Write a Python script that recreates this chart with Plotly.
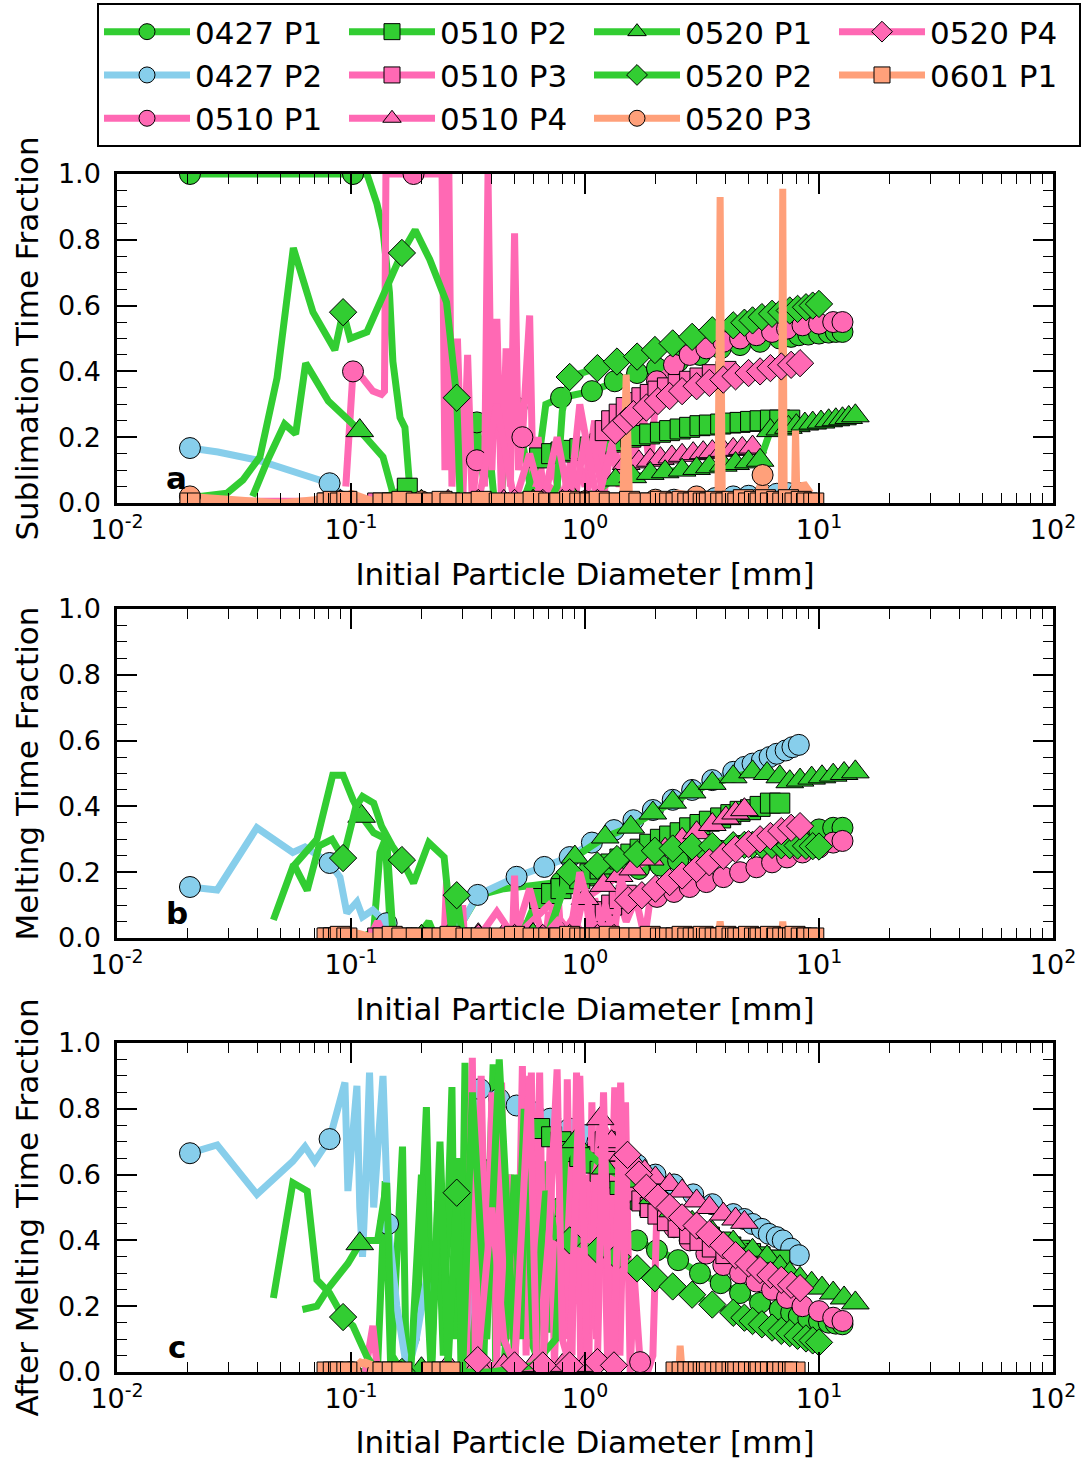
import plotly.graph_objects as go

# ------------------------------------------------------------------
# Labels
# ------------------------------------------------------------------
SERIES = ["0427 P1", "0427 P2", "0510 P1", "0510 P2", "0510 P3", "0510 P4",
          "0520 P1", "0520 P2", "0520 P3", "0520 P4", "0601 P1"]
LEGEND_ORDER = ["0427 P1", "0510 P2", "0520 P1", "0520 P4",
                "0427 P2", "0510 P3", "0520 P2", "0601 P1",
                "0510 P1", "0510 P4", "0520 P3"]
X_TICKS = [0.01, 0.1, 1, 10, 100]
X_TICK_TEXT = ["10<sup>-2</sup>", "10<sup>-1</sup>", "10<sup>0</sup>", "10<sup>1</sup>", "10<sup>2</sup>"]
Y_TICKS = [0.0, 0.2, 0.4, 0.6, 0.8, 1.0]
Y_TICK_TEXT = ["0.0", "0.2", "0.4", "0.6", "0.8", "1.0"]
PANEL_TITLES = ["Sublimation Time Fraction", "Melting Time Fraction", "After Melting Time Fraction"]
PANEL_LETTERS = ["a", "b", "c"]
X_TITLE = "Initial Particle Diameter [mm]"

# ------------------------------------------------------------------
# Data (diameter in mm, time fraction). *_mx/*_my = points carrying markers,
# *_lx/*_ly = additional line vertices (same series, no marker drawn)
# ------------------------------------------------------------------
d_0520P2 = [0.0925, 0.165, 0.283, 0.86, 1.13, 1.37, 1.67, 1.99, 2.37, 2.87, 3.5, 4.3, 4.8, 5.2,
            5.7, 6.3, 6.9, 7.5, 8.1, 8.8, 9.4, 10.0]
d_0601P1 = [0.0205, 0.079, 0.084, 0.09, 0.096, 0.137, 0.15, 0.165, 0.19, 0.223, 0.245, 0.265, 0.31,
            0.36, 0.43, 0.5, 0.6, 0.7, 0.78, 0.86, 0.95, 1.05, 1.15, 1.27, 1.4, 1.55, 1.7, 1.9, 2.1,
            2.3, 2.45, 2.6, 2.75, 2.9, 3.05, 3.2, 3.4, 3.6, 3.8, 4.0, 4.25, 4.5, 4.75, 5.0, 5.3, 5.6,
            5.9, 6.2, 6.6, 7.0, 7.4, 7.9, 8.4, 8.9, 9.5]

# ---------------- panel a : sublimation ----------------
a_0427P1_mx = [0.0205, 0.102, 0.345, 0.51, 0.79, 1.07, 1.34, 1.67, 2.03, 2.5, 3.1, 3.8, 4.6, 5.6, 6.8,
               7.6, 8.2, 9.0, 10.0, 11.0, 11.8, 12.6]
a_0427P1_my = [1.0, 1.0, 0.245, 0.29, 0.32, 0.34, 0.37, 0.395, 0.41, 0.43, 0.45, 0.47, 0.48, 0.49, 0.50,
               0.505, 0.51, 0.512, 0.515, 0.518, 0.52, 0.52]
a_0427P1_lx = [0.117, 0.129, 0.137, 0.146, 0.151, 0.162, 0.17, 0.179, 0.21, 0.24, 0.27, 0.30, 0.33,
               0.37, 0.39, 0.41, 0.44, 0.47, 0.60, 0.68]
a_0427P1_ly = [1.0, 0.91, 0.83, 0.64, 0.43, 0.26, 0.23, 0.03, 0.01, 0.0, 0.02, 0.0, 0.0, 0.06, 0.17,
               0.0, 0.03, 0.27, 0.0, 0.3]

a_0427P2_mx = [0.0205, 0.081, 2.4, 3.0, 3.6, 4.3, 5.0, 5.8, 6.6, 7.4, 8.2]
a_0427P2_my = [0.167, 0.06, 0.01, 0.012, 0.015, 0.02, 0.022, 0.025, 0.028, 0.03, 0.03]
a_0427P2_lx = [0.027, 0.04, 0.055, 0.07, 0.09, 0.1, 0.13, 0.2, 0.3, 0.5, 0.8, 1.2, 1.8]
a_0427P2_ly = [0.155, 0.13, 0.1, 0.075, 0.03, 0.0, 0.01, 0.0, 0.005, 0.0, 0.005, 0.0, 0.01]

a_0510P1_mx = [0.102, 0.185, 0.345, 0.54, 2.03, 2.4, 2.8, 3.3, 3.9, 4.6, 5.4, 6.3, 7.3, 8.5, 10.0,
               11.5, 12.6]
a_0510P1_my = [0.40, 1.0, 0.13, 0.2, 0.37, 0.42, 0.45, 0.47, 0.49, 0.50, 0.51, 0.52, 0.53, 0.54,
               0.545, 0.55, 0.55]
a_0510P1_lx = [0.095, 0.112, 0.124, 0.135, 0.139, 0.141, 0.245, 0.252, 0.262, 0.27, 0.285, 0.30, 0.315,
               0.33, 0.36, 0.372, 0.385, 0.40, 0.42, 0.44, 0.46, 0.48, 0.50, 0.52, 0.58, 0.60, 0.63,
               0.67, 0.72, 0.8, 0.9, 1.0, 1.1, 1.2, 1.3, 1.4, 1.5, 1.6, 1.75, 1.9]
a_0510P1_ly = [0.05, 0.38, 0.34, 0.33, 0.34, 1.0, 1.0, 0.1, 1.0, 0.05, 0.5, 0.0, 0.45, 0.0, 0.15,
               0.05, 1.0, 0.1, 0.56, 0.0, 0.47, 0.05, 0.82, 0.1, 0.57, 0.05, 0.2, 0.0, 0.12, 0.0,
               0.18, 0.05, 0.25, 0.05, 0.28, 0.05, 0.22, 0.1, 0.3, 0.1]

a_0510P2_mx = [0.085, 0.174, 0.64, 0.72, 0.79, 0.86, 0.95, 1.05, 1.16, 1.29, 1.41, 1.57, 1.72, 1.89,
               2.1, 2.3, 2.55, 2.8, 3.1, 3.4, 3.8, 4.2, 4.6, 5.1, 5.6, 6.2, 6.8, 7.5]
a_0510P2_my = [0.0, 0.045, 0.137, 0.15, 0.155, 0.16, 0.165, 0.17, 0.18, 0.185, 0.19, 0.2, 0.205, 0.21,
               0.215, 0.22, 0.225, 0.23, 0.235, 0.237, 0.24, 0.243, 0.245, 0.248, 0.25, 0.252, 0.252,
               0.252]
a_0510P2_lx = [0.12, 0.2, 0.3, 0.4, 0.5, 0.56, 0.6]
a_0510P2_ly = [0.0, 0.0, 0.01, 0.0, 0.0, 0.03, 0.09]

a_0510P3_mx = [0.08, 0.13, 0.2, 0.3, 1.22, 1.3, 1.4, 1.5, 1.62, 1.75, 1.9, 2.05, 2.25, 2.5, 2.8, 3.1,
               3.5, 4.0]
a_0510P3_my = [0.0, 0.0, 0.0, 0.0, 0.22, 0.25, 0.27, 0.29, 0.305, 0.32, 0.33, 0.34, 0.35, 0.36, 0.37,
               0.38, 0.39, 0.40]
a_0510P3_lx = [0.5, 0.7, 0.9, 1.0, 1.05, 1.1, 1.15]
a_0510P3_ly = [0.0, 0.05, 0.0, 0.2, 0.05, 0.25, 0.1]

a_0510P4_mx = [0.0205, 0.09, 0.15, 0.2, 0.26, 0.35, 0.45, 0.6, 0.8, 1.0, 1.5, 1.7, 1.9, 2.1, 2.35,
               2.6, 2.9, 3.2, 3.5, 3.9, 4.3, 4.7, 5.2]
a_0510P4_my = [0.005, 0.005, 0.005, 0.005, 0.005, 0.005, 0.005, 0.005, 0.005, 0.005, 0.12, 0.125,
               0.13, 0.135, 0.14, 0.145, 0.15, 0.153, 0.156, 0.16, 0.163, 0.166, 0.17]
a_0510P4_lx = [1.1, 1.2, 1.3, 1.4]
a_0510P4_ly = [0.15, 0.02, 0.18, 0.05]

a_0520P1_mx = [0.109, 0.2, 0.35, 0.6, 0.9, 1.35, 1.6, 1.9, 2.2, 2.6, 3.0, 3.4, 3.9, 4.4, 5.0, 5.6,
               6.2, 6.8, 7.4, 8.0, 8.7, 9.4, 10.2, 11.0, 11.8, 12.6, 13.4, 14.3]
a_0520P1_my = [0.22, 0.005, 0.005, 0.005, 0.01, 0.07, 0.08, 0.09, 0.095, 0.10, 0.105, 0.11, 0.115,
               0.12, 0.125, 0.13, 0.22, 0.225, 0.23, 0.235, 0.24, 0.243, 0.246, 0.25, 0.253, 0.256,
               0.26, 0.265]
a_0520P1_lx = [0.038, 0.044, 0.052, 0.058, 0.064, 0.08, 0.137, 0.151, 0.16, 0.25, 0.3, 0.45, 0.75,
               1.1, 1.25]
a_0520P1_ly = [0.02, 0.13, 0.24, 0.21, 0.425, 0.31, 0.14, 0.03, 0.0, 0.0, 0.02, 0.0, 0.0, 0.03, 0.06]

a_0520P2_my = [0.58, 0.76, 0.32, 0.383, 0.41, 0.43, 0.445, 0.465, 0.485, 0.505, 0.525, 0.54, 0.548,
               0.555, 0.565, 0.575, 0.58, 0.585, 0.59, 0.595, 0.60, 0.605]
a_0520P2_lx = [0.0226, 0.0295, 0.0345, 0.0408, 0.0483, 0.0567, 0.0688, 0.0853, 0.0991, 0.117, 0.137,
               0.188, 0.217, 0.256, 0.292, 0.31, 0.4, 0.55, 0.7, 0.76, 0.8]
a_0520P2_ly = [0.02, 0.03, 0.07, 0.14, 0.38, 0.775, 0.58, 0.465, 0.50, 0.52, 0.63, 0.83, 0.74, 0.61,
               0.03, 0.0, 0.0, 0.0, 0.0, 0.05, 0.28]

a_0520P3_mx = [0.0205, 0.09, 0.2, 0.5, 1.0, 2.0, 3.0, 5.74]
a_0520P3_my = [0.02, 0.005, 0.005, 0.005, 0.005, 0.01, 0.02, 0.085]
a_0520P3_lx = [0.03, 0.05, 0.07, 0.08, 0.1, 0.12, 0.15, 0.3, 0.7, 1.45, 1.5, 1.55, 2.5, 3.7, 3.78,
               3.86, 4.5, 5.5, 5.95, 6.9, 7.0, 7.1, 7.85, 7.94, 8.05, 8.6, 9.2]
a_0520P3_ly = [0.01, 0.0, 0.01, 0.02, 0.03, 0.01, 0.0, 0.01, 0.01, 0.0, 0.39, 0.0, 0.03, 0.0, 0.93,
               0.0, 0.02, 0.03, 0.02, 0.0, 0.955, 0.0, 0.0, 0.22, 0.0, 0.06, 0.03]

a_0520P4_mx = [0.35, 0.5, 0.66, 0.86, 1.13, 1.35, 1.5, 1.61, 1.83, 2.05, 2.3, 2.6, 3.0, 3.4, 3.9,
               4.4, 5.0, 5.6, 6.2, 6.9, 7.6, 8.3]
a_0520P4_my = [0.0, 0.0, 0.0, 0.0, 0.0, 0.22, 0.25, 0.27, 0.29, 0.31, 0.325, 0.34, 0.355, 0.365,
               0.375, 0.385, 0.395, 0.40, 0.41, 0.415, 0.42, 0.425]
a_0520P4_lx = [0.42, 0.58, 0.76, 0.95, 1.22]
a_0520P4_ly = [0.3, 0.15, 0.2, 0.3, 0.1]

a_0601P1_my = [0.0, 0.0, 0.005, 0.0, 0.005, 0.0, 0.0, 0.005, 0.0, 0.0,
               0.005, 0.0, 0.0, 0.005, 0.0, 0.0, 0.005, 0.0, 0.0, 0.005,
               0.0, 0.0, 0.005, 0.0, 0.0, 0.005, 0.0, 0.0, 0.005, 0.0,
               0.0, 0.005, 0.0, 0.0, 0.005, 0.0, 0.0, 0.005, 0.0, 0.0,
               0.005, 0.0, 0.01, 0.0, 0.005, 0.0, 0.01, 0.0, 0.005, 0.0,
               0.01, 0.0, 0.005, 0.0, 0.0]
a_0601P1_lx = []
a_0601P1_ly = []

# ---------------- panel b : melting ----------------
b_0427P1_mx = [0.79, 1.07, 1.37, 1.7, 2.1, 2.5, 3.1, 3.8, 4.6, 5.6, 6.8, 8.2, 10.0, 11.5, 12.6]
b_0427P1_my = [0.17, 0.19, 0.20, 0.21, 0.22, 0.235, 0.25, 0.265, 0.28, 0.295, 0.31, 0.32, 0.33,
               0.335, 0.335]
b_0427P1_lx = [0.11, 0.125, 0.133, 0.14, 0.148, 0.2, 0.215, 0.23, 0.25, 0.3, 0.35, 0.45, 0.6]
b_0427P1_ly = [0.0, 0.02, 0.26, 0.30, 0.0, 0.02, 0.05, 0.0, 0.0, 0.05, 0.13, 0.15, 0.16]

b_0427P2_mx = [0.0205, 0.081, 0.142, 0.348, 0.51, 0.67, 0.86, 1.07, 1.33, 1.61, 1.95, 2.37, 2.87,
               3.5, 4.3, 4.8, 5.2, 5.7, 6.15, 6.6, 7.2, 7.7, 8.2]
b_0427P2_my = [0.155, 0.228, 0.045, 0.131, 0.186, 0.216, 0.246, 0.29, 0.328, 0.358, 0.389, 0.42,
               0.45, 0.48, 0.505, 0.52, 0.53, 0.54, 0.55, 0.56, 0.57, 0.58, 0.587]
b_0427P2_lx = [0.0268, 0.0396, 0.0564, 0.0636, 0.0897, 0.096, 0.106, 0.112, 0.124, 0.16, 0.2, 0.25, 0.3]
b_0427P2_ly = [0.146, 0.335, 0.26, 0.277, 0.185, 0.076, 0.11, 0.064, 0.085, 0.01, 0.0, 0.02, 0.05]

b_0510P1_mx = [2.03, 2.4, 2.8, 3.3, 3.9, 4.6, 5.4, 6.3, 7.3, 8.5, 10.0, 11.5, 12.6]
b_0510P1_my = [0.125, 0.14, 0.155, 0.17, 0.185, 0.20, 0.215, 0.23, 0.245, 0.26, 0.275, 0.29, 0.295]
b_0510P1_lx = [0.12, 0.13, 0.14, 0.25, 0.256, 0.262, 0.295, 0.3, 0.305, 0.4, 0.45, 0.49, 0.5, 0.51,
               0.55, 0.6, 0.68, 0.7, 0.72, 0.74, 0.76, 0.79, 0.82, 0.9, 1.0, 1.1, 1.2, 1.35, 1.5,
               1.65, 1.8, 1.9]
b_0510P1_ly = [0.0, 0.05, 0.0, 0.0, 0.17, 0.0, 0.0, 0.1, 0.0, 0.02, 0.0, 0.0, 0.19, 0.0, 0.05, 0.0,
               0.0, 0.08, 0.0, 0.0, 0.17, 0.0, 0.02, 0.05, 0.0, 0.1, 0.0, 0.15, 0.05, 0.12, 0.0, 0.12]

b_0510P2_mx = [0.085, 0.174, 0.64, 0.72, 0.79, 0.86, 0.95, 1.05, 1.16, 1.29, 1.41, 1.57, 1.72, 1.89,
               2.1, 2.3, 2.55, 2.8, 3.1, 3.4, 3.8, 4.2, 4.6, 5.1, 5.6, 6.2, 6.8]
b_0510P2_my = [0.0, 0.0, 0.12, 0.135, 0.15, 0.165, 0.18, 0.195, 0.21, 0.225, 0.24, 0.255, 0.27,
               0.285, 0.30, 0.31, 0.32, 0.335, 0.345, 0.355, 0.365, 0.375, 0.385, 0.39, 0.40, 0.41,
               0.41]
b_0510P2_lx = [0.12, 0.3, 0.5, 0.56, 0.6]
b_0510P2_ly = [0.0, 0.0, 0.0, 0.04, 0.09]

b_0510P3_mx = [0.08, 0.13, 0.2, 0.3, 1.22, 1.3, 1.4, 1.5]
b_0510P3_my = [0.0, 0.0, 0.0, 0.0, 0.08, 0.1, 0.12, 0.13]
b_0510P3_lx = [0.5, 0.7, 0.9, 1.0, 1.05, 1.1, 1.15]
b_0510P3_ly = [0.0, 0.1, 0.0, 0.15, 0.02, 0.12, 0.05]

b_0510P4_mx = [0.26, 0.35, 0.45, 0.6, 0.8, 1.0, 1.2, 1.4, 1.6, 1.9, 2.2, 2.6, 3.0, 3.5, 4.0, 4.4, 4.8]
b_0510P4_my = [0.005, 0.01, 0.01, 0.01, 0.01, 0.12, 0.16, 0.19, 0.21, 0.24, 0.27, 0.30, 0.32, 0.345,
               0.365, 0.38, 0.39]
b_0510P4_lx = []
b_0510P4_ly = []

b_0520P1_mx = [0.111, 0.2, 0.35, 0.6, 0.905, 1.22, 1.57, 1.95, 2.37, 2.87, 3.5, 4.3, 5.2, 6.0, 6.8,
               7.5, 8.3, 9.3, 10.3, 11.5, 12.8, 14.3]
b_0520P1_my = [0.37, 0.005, 0.005, 0.01, 0.246, 0.307, 0.337, 0.38, 0.413, 0.444, 0.47, 0.49, 0.505,
               0.50, 0.49, 0.475, 0.48, 0.486, 0.49, 0.495, 0.50, 0.505]
b_0520P1_lx = [0.0466, 0.0564, 0.0715, 0.0835, 0.0925, 0.102, 0.125, 0.142, 0.151, 0.3, 0.45, 0.7, 0.8]
b_0520P1_ly = [0.055, 0.216, 0.30, 0.495, 0.495, 0.42, 0.32, 0.30, 0.015, 0.0, 0.02, 0.0, 0.15]

b_0520P2_my = [0.243, 0.237, 0.13, 0.20, 0.22, 0.24, 0.255, 0.265, 0.272, 0.278, 0.28, 0.282, 0.283,
               0.283, 0.283, 0.283, 0.282, 0.282, 0.281, 0.28, 0.279, 0.278]
b_0520P2_lx = [0.0564, 0.065, 0.073, 0.083, 0.097, 0.105, 0.112, 0.125, 0.135, 0.15, 0.185, 0.215,
               0.25, 0.27, 0.3, 0.5, 0.7, 0.78]
b_0520P2_ly = [0.23, 0.145, 0.28, 0.30, 0.30, 0.40, 0.43, 0.41, 0.34, 0.28, 0.167, 0.29, 0.246, 0.01,
               0.0, 0.0, 0.02, 0.12]

b_0520P3_mx = [0.5, 2.0, 5.74]
b_0520P3_my = [0.0, 0.0, 0.0]
b_0520P3_lx = [0.08, 0.1, 0.12, 3.7, 3.78, 3.86, 6.9, 7.0, 7.1]
b_0520P3_ly = [0.01, 0.02, 0.005, 0.0, 0.05, 0.0, 0.0, 0.05, 0.0]

b_0520P4_mx = [0.35, 0.5, 0.66, 0.86, 1.13, 1.33, 1.53, 1.75, 2.0, 2.3, 2.6, 3.0, 3.4, 3.9, 4.4, 5.0,
               5.6, 6.2, 6.9, 7.6, 8.3]
b_0520P4_my = [0.0, 0.0, 0.0, 0.0, 0.0, 0.0, 0.115, 0.13, 0.15, 0.17, 0.19, 0.21, 0.23, 0.25, 0.27,
               0.285, 0.30, 0.31, 0.325, 0.335, 0.34]
b_0520P4_lx = [0.42, 0.58, 0.76, 0.95, 1.22, 1.42]
b_0520P4_ly = [0.08, 0.15, 0.05, 0.2, 0.1, 0.18]

b_0601P1_my = [None, 0.0, 0.0, 0.005, 0.0, 0.0, 0.005, 0.0, 0.0, 0.0,
               0.0, 0.005, 0.0, 0.0, 0.0, 0.005, 0.0, 0.0, 0.0, 0.005,
               0.0, 0.0, 0.0, 0.005, 0.0, 0.0, 0.0, 0.005, 0.0, 0.0,
               0.0, 0.005, 0.0, 0.0, 0.0, 0.005, 0.0, 0.0, 0.0, 0.005,
               0.0, 0.0, 0.0, 0.005, 0.0, 0.0, 0.0, 0.005, 0.0, 0.0,
               0.0, 0.005, 0.0, 0.0, 0.0]
b_0601P1_lx = []
b_0601P1_ly = []

# ---------------- panel c : after melting ----------------
c_0427P1_mx = [0.356, 0.51, 0.79, 1.07, 1.34, 1.67, 2.03, 2.5, 3.1, 3.8, 4.6, 5.6, 6.8, 7.6, 8.2, 9.0,
               10.0, 11.0, 11.8, 12.6]
c_0427P1_my = [0.62, 0.56, 0.50, 0.47, 0.43, 0.40, 0.37, 0.34, 0.30, 0.27, 0.24, 0.21, 0.19, 0.18,
               0.17, 0.162, 0.155, 0.15, 0.147, 0.145]
c_0427P1_lx = [0.11, 0.13, 0.14, 0.148, 0.157, 0.166, 0.172, 0.19, 0.21, 0.222, 0.235, 0.248, 0.27,
               0.278, 0.285, 0.295, 0.307, 0.32, 0.335, 0.37, 0.39, 0.405, 0.415, 0.43, 0.45, 0.47,
               0.49, 0.53, 0.57, 0.62, 0.66, 0.7, 0.74]
c_0427P1_ly = [0.0, 0.02, 0.58, 0.0, 0.35, 0.685, 0.02, 0.1, 0.805, 0.03, 0.52, 0.05, 0.866, 0.1,
               0.65, 0.02, 0.94, 0.05, 0.6, 0.05, 0.5, 0.935, 0.02, 0.3, 0.08, 0.6, 0.1, 0.6, 0.12,
               0.05, 0.64, 0.12, 0.45]

c_0427P2_mx = [0.0205, 0.081, 0.144, 0.356, 0.43, 0.51, 0.6, 0.71, 0.86, 1.0, 1.13, 1.37, 1.67, 2.0,
               2.4, 2.9, 3.5, 4.3, 4.8, 5.2, 5.7, 6.1, 6.6, 7.0, 7.6, 8.2]
c_0427P2_my = [0.665, 0.708, 0.45, 0.86, 0.83, 0.81, 0.79, 0.77, 0.74, 0.72, 0.70, 0.66, 0.63, 0.60,
               0.57, 0.54, 0.51, 0.48, 0.465, 0.45, 0.435, 0.42, 0.41, 0.40, 0.375, 0.355]
c_0427P2_lx = [0.0268, 0.0396, 0.0564, 0.0636, 0.07, 0.0942, 0.097, 0.106, 0.109, 0.112, 0.116, 0.12,
               0.125, 0.137, 0.157, 0.174, 0.19, 0.21, 0.223, 0.26, 0.3, 0.33]
c_0427P2_ly = [0.69, 0.54, 0.64, 0.685, 0.64, 0.88, 0.55, 0.87, 0.5, 0.35, 0.6, 0.91, 0.50, 0.90, 0.2,
               0.0, 0.1, 0.28, 0.0, 0.02, 0.0, 0.3]

c_0510P1_mx = [1.72, 2.03, 2.4, 2.8, 3.3, 3.9, 4.6, 5.4, 6.3, 7.3, 8.5, 10.0, 11.5, 12.6]
c_0510P1_my = [0.03, 0.5, 0.44, 0.40, 0.36, 0.325, 0.30, 0.275, 0.25, 0.225, 0.20, 0.185, 0.165, 0.155]
c_0510P1_lx = [0.115, 0.124, 0.13, 0.31, 0.33, 0.34, 0.36, 0.38, 0.40, 0.42, 0.44, 0.46, 0.48, 0.50,
               0.52, 0.54, 0.56, 0.59, 0.61, 0.64, 0.67, 0.71, 0.74, 0.78, 0.82, 0.84, 0.88, 0.92,
               0.96, 1.0, 1.04, 1.07, 1.12, 1.18, 1.25, 1.34, 1.41, 1.49, 1.56, 1.62, 1.85, 1.95]
c_0510P1_ly = [0.0, 0.14, 0.0, 0.0, 0.955, 0.05, 0.9, 0.1, 0.85, 0.02, 0.88, 0.1, 0.6, 0.0, 0.3, 0.93,
               0.05, 0.91, 0.1, 0.91, 0.05, 0.7, 0.02, 0.5, 0.1, 0.89, 0.05, 0.91, 0.0, 0.6, 0.05,
               0.82, 0.1, 0.79, 0.02, 0.865, 0.05, 0.82, 0.0, 0.3, 0.0, 0.05]

c_0510P2_mx = [0.64, 0.72, 0.79, 0.86, 0.95, 1.05, 1.16, 1.29, 1.41, 1.57, 1.72, 1.89, 2.1, 2.3, 2.55,
               2.8, 3.1, 3.4, 3.8, 4.2, 4.6, 5.1, 5.6, 6.2, 6.8]
c_0510P2_my = [0.74, 0.715, 0.70, 0.67, 0.655, 0.635, 0.61, 0.59, 0.57, 0.545, 0.525, 0.505, 0.485,
               0.47, 0.455, 0.435, 0.42, 0.41, 0.395, 0.38, 0.37, 0.36, 0.35, 0.34, 0.34]
c_0510P2_lx = [0.45, 0.5, 0.53, 0.56, 0.6]
c_0510P2_ly = [0.0, 0.6, 0.1, 0.75, 0.72]

c_0510P3_mx = [1.22, 1.3, 1.4, 1.5, 1.62, 1.75, 1.9, 2.05, 2.25, 2.5, 2.8, 3.1, 3.5, 4.0]
c_0510P3_my = [0.70, 0.64, 0.61, 0.58, 0.55, 0.52, 0.50, 0.48, 0.46, 0.44, 0.42, 0.40, 0.38, 0.36]
c_0510P3_lx = [1.0, 1.1]
c_0510P3_ly = [0.1, 0.6]

c_0510P4_mx = [0.26, 0.35, 0.45, 0.6, 0.8, 1.0, 1.16, 1.3, 1.45, 1.6, 1.8, 2.0, 2.3, 2.6, 3.0, 3.4,
               3.9, 4.4, 4.8]
c_0510P4_my = [0.02, 0.02, 0.02, 0.02, 0.02, 0.02, 0.77, 0.70, 0.66, 0.64, 0.61, 0.59, 0.57, 0.55,
               0.52, 0.50, 0.48, 0.465, 0.455]
c_0510P4_lx = []
c_0510P4_ly = []

c_0520P1_mx = [0.109, 0.2, 0.905, 1.22, 1.57, 1.95, 2.37, 2.87, 3.5, 4.3, 5.2, 6.0, 6.8, 7.5, 8.3,
               9.3, 10.3, 11.5, 12.8, 14.3]
c_0520P1_my = [0.39, 0.01, 0.70, 0.62, 0.58, 0.53, 0.49, 0.455, 0.425, 0.395, 0.37, 0.35, 0.32, 0.30,
               0.285, 0.27, 0.255, 0.24, 0.225, 0.21]
c_0520P1_lx = [0.062, 0.0715, 0.081, 0.097, 0.117, 0.13, 0.142, 0.15, 0.165, 0.18, 0.25, 0.4, 0.6,
               0.75, 0.82]
c_0520P1_ly = [0.19, 0.2, 0.26, 0.33, 0.40, 0.40, 0.575, 0.05, 0.0, 0.01, 0.0, 0.0, 0.02, 0.1, 0.65]

c_0520P2_my = [0.167, 0.0, 0.545, 0.40, 0.37, 0.35, 0.315, 0.285, 0.26, 0.235, 0.205, 0.18, 0.165,
               0.155, 0.145, 0.135, 0.125, 0.118, 0.11, 0.102, 0.096, 0.09]
c_0520P2_lx = [0.0466, 0.0564, 0.065, 0.0715, 0.081, 0.102, 0.117, 0.13, 0.18, 0.2, 0.22, 0.24, 0.26,
               0.3, 0.33, 0.38, 0.43, 0.5, 0.55, 0.6, 0.68, 0.75]
c_0520P2_ly = [0.225, 0.575, 0.55, 0.28, 0.24, 0.14, 0.046, 0.0, 0.0, 0.6, 0.0, 0.7, 0.02, 0.0, 0.85,
               0.1, 0.95, 0.05, 0.8, 0.1, 0.55, 0.41]

c_0520P3_mx = [0.1, 0.13]
c_0520P3_my = [0.0, 0.0]
c_0520P3_lx = [0.085, 0.095, 0.11, 0.12, 0.14]
c_0520P3_ly = [0.01, 0.02, 0.03, 0.02, 0.0]

c_0520P4_mx = [0.348, 0.5, 0.66, 0.86, 1.13, 1.33, 1.52, 1.7, 1.83, 2.05, 2.3, 2.6, 3.0, 3.4, 3.9,
               4.4, 5.0, 5.6, 6.2, 6.9, 7.6, 8.3]
c_0520P4_my = [0.036, 0.02, 0.02, 0.02, 0.03, 0.02, 0.66, 0.60, 0.56, 0.53, 0.50, 0.47, 0.445, 0.42,
               0.385, 0.355, 0.33, 0.31, 0.295, 0.28, 0.265, 0.255]
c_0520P4_lx = [0.4, 0.45, 0.58, 0.62, 0.76, 0.8, 0.95, 1.02, 1.2, 1.27, 1.42, 1.47]
c_0520P4_ly = [0.5, 0.1, 0.9, 0.05, 0.92, 0.1, 0.9, 0.05, 0.85, 0.1, 0.88, 0.3]

c_0601P1_my = [None, 0.0, 0.0, 0.0, 0.0, 0.0, 0.0, 0.0, None, 0.0,
               0.0, 0.0, None, None, None, None, None, None, None, None,
               None, None, None, None, None, None, None, None, None, None,
               0.0, 0.0, 0.0, 0.0, 0.0, 0.0, 0.0, 0.0, 0.0, 0.0,
               0.0, 0.0, 0.0, 0.0, 0.0, 0.0, 0.0, 0.0, 0.0, 0.0,
               0.0, 0.0, None, None, None]
c_0601P1_lx = [0.105, 0.115, 0.125, 2.52, 2.55, 2.58]
c_0601P1_ly = [0.02, 0.03, 0.02, 0.0, 0.08, 0.0]

DATA = {
    "a": {
        "0427 P1": (a_0427P1_mx, a_0427P1_my, a_0427P1_lx, a_0427P1_ly),
        "0427 P2": (a_0427P2_mx, a_0427P2_my, a_0427P2_lx, a_0427P2_ly),
        "0510 P1": (a_0510P1_mx, a_0510P1_my, a_0510P1_lx, a_0510P1_ly),
        "0510 P2": (a_0510P2_mx, a_0510P2_my, a_0510P2_lx, a_0510P2_ly),
        "0510 P3": (a_0510P3_mx, a_0510P3_my, a_0510P3_lx, a_0510P3_ly),
        "0510 P4": (a_0510P4_mx, a_0510P4_my, a_0510P4_lx, a_0510P4_ly),
        "0520 P1": (a_0520P1_mx, a_0520P1_my, a_0520P1_lx, a_0520P1_ly),
        "0520 P2": (d_0520P2, a_0520P2_my, a_0520P2_lx, a_0520P2_ly),
        "0520 P3": (a_0520P3_mx, a_0520P3_my, a_0520P3_lx, a_0520P3_ly),
        "0520 P4": (a_0520P4_mx, a_0520P4_my, a_0520P4_lx, a_0520P4_ly),
        "0601 P1": (d_0601P1, a_0601P1_my, a_0601P1_lx, a_0601P1_ly),
    },
    "b": {
        "0427 P1": (b_0427P1_mx, b_0427P1_my, b_0427P1_lx, b_0427P1_ly),
        "0427 P2": (b_0427P2_mx, b_0427P2_my, b_0427P2_lx, b_0427P2_ly),
        "0510 P1": (b_0510P1_mx, b_0510P1_my, b_0510P1_lx, b_0510P1_ly),
        "0510 P2": (b_0510P2_mx, b_0510P2_my, b_0510P2_lx, b_0510P2_ly),
        "0510 P3": (b_0510P3_mx, b_0510P3_my, b_0510P3_lx, b_0510P3_ly),
        "0510 P4": (b_0510P4_mx, b_0510P4_my, b_0510P4_lx, b_0510P4_ly),
        "0520 P1": (b_0520P1_mx, b_0520P1_my, b_0520P1_lx, b_0520P1_ly),
        "0520 P2": (d_0520P2, b_0520P2_my, b_0520P2_lx, b_0520P2_ly),
        "0520 P3": (b_0520P3_mx, b_0520P3_my, b_0520P3_lx, b_0520P3_ly),
        "0520 P4": (b_0520P4_mx, b_0520P4_my, b_0520P4_lx, b_0520P4_ly),
        "0601 P1": (d_0601P1, b_0601P1_my, b_0601P1_lx, b_0601P1_ly),
    },
    "c": {
        "0427 P1": (c_0427P1_mx, c_0427P1_my, c_0427P1_lx, c_0427P1_ly),
        "0427 P2": (c_0427P2_mx, c_0427P2_my, c_0427P2_lx, c_0427P2_ly),
        "0510 P1": (c_0510P1_mx, c_0510P1_my, c_0510P1_lx, c_0510P1_ly),
        "0510 P2": (c_0510P2_mx, c_0510P2_my, c_0510P2_lx, c_0510P2_ly),
        "0510 P3": (c_0510P3_mx, c_0510P3_my, c_0510P3_lx, c_0510P3_ly),
        "0510 P4": (c_0510P4_mx, c_0510P4_my, c_0510P4_lx, c_0510P4_ly),
        "0520 P1": (c_0520P1_mx, c_0520P1_my, c_0520P1_lx, c_0520P1_ly),
        "0520 P2": (d_0520P2, c_0520P2_my, c_0520P2_lx, c_0520P2_ly),
        "0520 P3": (c_0520P3_mx, c_0520P3_my, c_0520P3_lx, c_0520P3_ly),
        "0520 P4": (c_0520P4_mx, c_0520P4_my, c_0520P4_lx, c_0520P4_ly),
        "0601 P1": (d_0601P1, c_0601P1_my, c_0601P1_lx, c_0601P1_ly),
    },
}

# ------------------------------------------------------------------
# Styles
# ------------------------------------------------------------------
GREEN, BLUE, PINK, SALMON = "#32CD32", "#87CEEB", "#FF69B4", "#FFA07A"
COLORS = {"0427 P1": GREEN, "0427 P2": BLUE, "0510 P1": PINK, "0510 P2": GREEN,
          "0510 P3": PINK, "0510 P4": PINK, "0520 P1": GREEN, "0520 P2": GREEN,
          "0520 P3": SALMON, "0520 P4": PINK, "0601 P1": SALMON}
SYMBOLS = {"0427 P1": "circle", "0427 P2": "circle", "0510 P1": "circle", "0510 P2": "square",
           "0510 P3": "square", "0510 P4": "triangle-up", "0520 P1": "triangle-up",
           "0520 P2": "diamond", "0520 P3": "circle", "0520 P4": "diamond", "0601 P1": "square"}
SIZES = {"circle": 21, "square": 20, "triangle-up": 24, "diamond": 21}
FONT = "DejaVu Sans"
LINE_W = 7

AXES = [("x", "y"), ("x2", "y2"), ("x3", "y3")]
Y_DOMAINS = [[0.72538, 1.0], [0.36227, 0.63689], [0.0, 0.27462]]

fig = go.Figure()

for p, panel in enumerate(["a", "b", "c"]):
    xr, yr = AXES[p]
    for s in SERIES:
        mx, my, lx, ly = DATA[panel][s]
        pts = list(zip(mx, my, strict=True)) + list(zip(lx, ly, strict=True))
        pts.sort(key=lambda t: t[0])
        fig.add_trace(go.Scatter(
            x=[t[0] for t in pts], y=[t[1] for t in pts], mode="lines",
            line=dict(color=COLORS[s], width=LINE_W), connectgaps=False,
            xaxis=xr, yaxis=yr, showlegend=False, hoverinfo="skip"))
        fig.add_trace(go.Scatter(
            x=mx, y=my, mode="markers",
            marker=dict(symbol=SYMBOLS[s], size=SIZES[SYMBOLS[s]], color=COLORS[s],
                        line=dict(color="black", width=1)),
            xaxis=xr, yaxis=yr, showlegend=False, name=s))

# legend entries
for s in LEGEND_ORDER:
    fig.add_trace(go.Scatter(
        x=[None], y=[None], mode="lines+markers", name=s,
        line=dict(color=COLORS[s], width=LINE_W),
        marker=dict(symbol=SYMBOLS[s], size=SIZES[SYMBOLS[s]], color=COLORS[s],
                    line=dict(color="black", width=1)),
        xaxis="x", yaxis="y", showlegend=True))

MINOR_X = [m * 10.0 ** e for e in range(-2, 2) for m in range(2, 10)]


def xaxis_cfg(anchor):
    return dict(
        type="log", range=[-2, 2], domain=[0, 1], anchor=anchor,
        tickmode="array", tickvals=X_TICKS, ticktext=X_TICK_TEXT,
        ticks="inside", ticklen=20, tickwidth=1.5, tickcolor="black",
        minor=dict(tickmode="array", tickvals=MINOR_X, ticks="inside", ticklen=10,
                   tickwidth=1.3, tickcolor="black", showgrid=False),
        showline=True, linecolor="black", linewidth=2.5, mirror="ticks",
        showgrid=False, zeroline=False, automargin=False,
        tickfont=dict(family=FONT, size=27, color="black"), ticklabelstandoff=1,
        title=dict(text=X_TITLE, font=dict(family=FONT, size=31, color="black"), standoff=20),
    )


def yaxis_cfg(anchor, domain, title):
    return dict(
        range=[0, 1], domain=domain, anchor=anchor,
        tickmode="array", tickvals=Y_TICKS, ticktext=Y_TICK_TEXT,
        ticks="inside", ticklen=20, tickwidth=1.5, tickcolor="black",
        minor=dict(dtick=0.05, tick0=0, ticks="inside", ticklen=10, tickwidth=1.3,
                   tickcolor="black", showgrid=False),
        showline=True, linecolor="black", linewidth=2.5, mirror="ticks",
        showgrid=False, zeroline=False, automargin=False,
        tickfont=dict(family=FONT, size=27, color="black"), ticklabelstandoff=8,
        title=dict(text=title, font=dict(family=FONT, size=31, color="black"), standoff=11),
    )


layout = dict(
    width=1090, height=1460, template="none",
    margin=dict(l=117, r=37, t=174, b=88, pad=0, autoexpand=False),
    paper_bgcolor="white", plot_bgcolor="white",
    font=dict(family=FONT, color="black"),
    legend=dict(orientation="h", x=(97 - 117) / 936, xanchor="left",
                y=(1372 - 3) / 1198, yanchor="top",
                bordercolor="black", borderwidth=2, bgcolor="white",
                font=dict(family=FONT, size=31, color="black"),
                itemwidth=86, entrywidth=144, entrywidthmode="pixels",
                traceorder="normal"),
    annotations=[],
)
for p in range(3):
    xr, yr = AXES[p]
    xkey = "xaxis" if p == 0 else "xaxis%d" % (p + 1)
    ykey = "yaxis" if p == 0 else "yaxis%d" % (p + 1)
    layout[xkey] = xaxis_cfg(yr)
    layout[ykey] = yaxis_cfg(xr, Y_DOMAINS[p], PANEL_TITLES[p])
    layout["annotations"].append(dict(
        text="<b>%s</b>" % PANEL_LETTERS[p], xref="%s domain" % xr, yref="%s domain" % yr,
        x=0.064, y=0.077, xanchor="center", yanchor="middle", showarrow=False,
        font=dict(family=FONT, size=31, color="black")))

fig.update_layout(**layout)
fig.write_html("out.html")
